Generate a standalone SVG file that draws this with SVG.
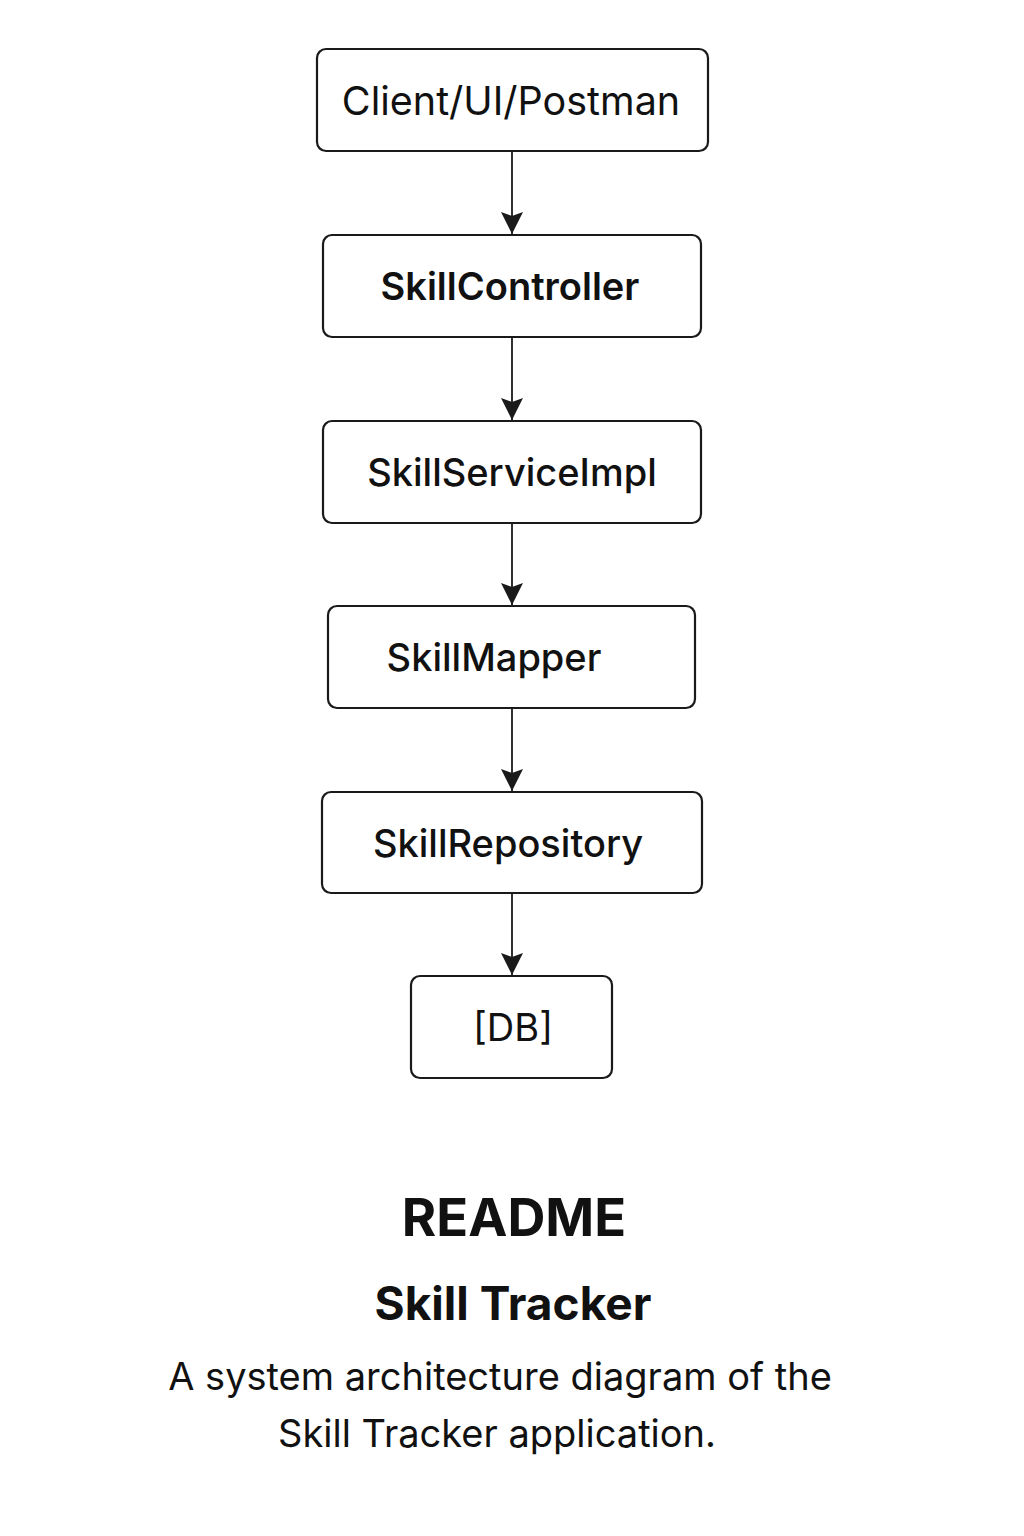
<svg xmlns="http://www.w3.org/2000/svg" width="1024" height="1536" viewBox="0 0 1024 1536">
<style>
.box{fill:#fff;stroke:#1a1a1a;stroke-width:2.2}
.lbl{font-family:Inter,"Noto Sans",sans-serif;fill:#111;text-anchor:middle}
.n{font-size:38px}
.edge{stroke:#1a1a1a;stroke-width:1.8;fill:none}
</style>
<defs>
<marker id="arr" viewBox="0 0 10 10" refX="10" refY="5" markerWidth="24" markerHeight="22" markerUnits="userSpaceOnUse" orient="auto">
<path d="M0,0 L10,5 L0,10 L1.8,5 Z" fill="#1a1a1a"/>
</marker>
</defs>
<rect width="1024" height="1536" fill="#fff"/>
<g id="connectors">
<line class="edge" x1="512" y1="151" x2="512" y2="234" marker-end="url(#arr)"/>
<line class="edge" x1="512" y1="337" x2="512" y2="420" marker-end="url(#arr)"/>
<line class="edge" x1="512" y1="523" x2="512" y2="605" marker-end="url(#arr)"/>
<line class="edge" x1="512" y1="708" x2="512" y2="791" marker-end="url(#arr)"/>
<line class="edge" x1="512" y1="893" x2="512" y2="975" marker-end="url(#arr)"/>
</g>
<g id="client"><rect class="box" x="317" y="49" width="391" height="102" rx="9"/><text class="lbl n" x="511" y="115" style="font-size:39.5px">Client/UI/Postman</text></g>
<g id="controller"><rect class="box" x="323" y="235" width="378" height="102" rx="9"/><text class="lbl n" x="510" y="300" font-weight="600">SkillController</text></g>
<g id="service"><rect class="box" x="323" y="421" width="378" height="102" rx="9"/><text class="lbl n" x="512" y="486" font-weight="500">SkillServiceImpl</text></g>
<g id="mapper"><rect class="box" x="328" y="606" width="367" height="102" rx="9"/><text class="lbl n" x="494" y="671" font-weight="500">SkillMapper</text></g>
<g id="repository"><rect class="box" x="322" y="792" width="380" height="101" rx="9"/><text class="lbl n" x="508" y="857" font-weight="500">SkillRepository</text></g>
<g id="db"><rect class="box" x="411" y="976" width="201" height="102" rx="9"/><text class="lbl n" x="513" y="1041">[DB]</text></g>
<text class="lbl" x="514" y="1236" style="font-size:52.5px" font-weight="700">README</text>
<text class="lbl" x="513" y="1320" style="font-size:46px" font-weight="700">Skill Tracker</text>
<text class="lbl" x="500" y="1390" style="font-size:38px">A system architecture diagram of the</text>
<text class="lbl" x="497" y="1447" style="font-size:38px">Skill Tracker application.</text>
</svg>
